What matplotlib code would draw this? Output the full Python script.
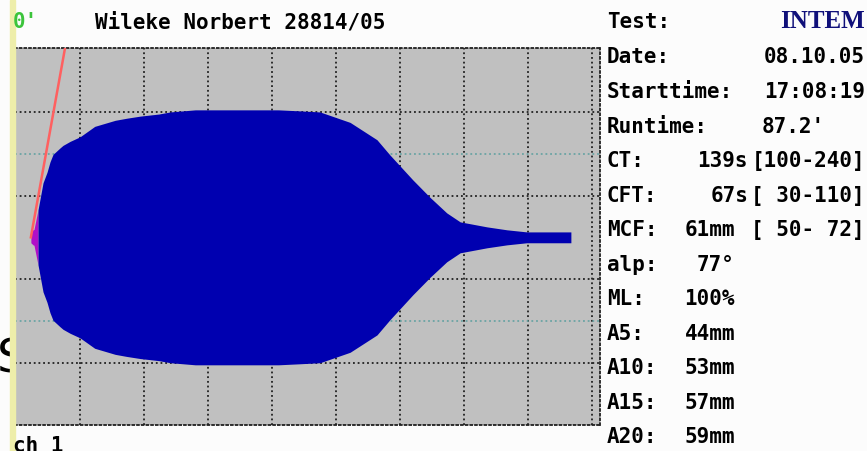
import numpy as np
import matplotlib.pyplot as plt

# =============================================================================
# data
# =============================================================================
patient = "Wileke Norbert 28814/05"
# trace: time in minutes, amplitude in mm
t_min = [0.0, 2.32, 2.66, 2.81, 3.13, 3.44, 4.22, 4.84, 5.31, 5.78, 6.88, 7.34, 8.44,
         10.0, 12.3, 15.5, 17.3, 19.4, 22.3, 24.1, 28.0, 35.0, 41.0, 44.4, 47.5,
         52.2, 56.4, 58.4, 62.0, 64.7, 67.3, 69.4, 73.6, 76.7, 79.8, 86.7]
amp_mm = [2.6, 2.6, 3.6, 3.8, 8.6, 13.2, 26.1, 31.1, 36.1, 39.7, 42.8, 44.0, 45.9,
          48.1, 53.1, 56.0, 57.0, 58.0, 59.0, 60.0, 61.0, 61.0, 61.0, 60.5, 60.0,
          55.0, 46.7, 39.5, 27.5, 19.1, 11.7, 7.4, 5.0, 3.6, 2.6, 2.6]
ct_s = 139
cft_s = 67
alpha_top = (7.66, 45.3)   # where the tangent leaves the top of the grid

labels = ["Test:", "Date:", "Starttime:", "Runtime:", "CT:", "CFT:", "MCF:",
          "alp:", "ML:", "A5:", "A10:", "A15:", "A20:"]
values = ["INTEM", "08.10.05", "17:08:19", "87.2'", "139s", "67s", "61mm",
          "77°", "100%", "44mm", "53mm", "57mm", "59mm"]
ranges = ["", "", "", "", "[100-240]", "[ 30-110]", "[ 50- 72]",
          "", "", "", "", "", ""]

# =============================================================================
# figure
# =============================================================================
W, H = 867, 451
fig = plt.figure(figsize=(W / 100, H / 100), dpi=100, facecolor='#fcfcfc')

def fx(px):
    return px / W

def fy(py):
    return 1 - py / H

ax = fig.add_axes([fx(15), fy(425), fx(600) - fx(15), fy(48) - fy(425)])
ax.set_facecolor('#c0c0c0')

t = np.array(t_min)
half = np.array(amp_mm) / 2
ct = ct_s / 60
cft_end = ct + cft_s / 60

# grid
for v in range(10, 91, 10):
    ax.axvline(v, color='#202020', ls=(0, (1, 1.6)), lw=1.3, zorder=1)
for h in [10, 30]:
    for s in [-1, 1]:
        ax.axhline(s * h, color='#202020', ls=(0, (1, 1.6)), lw=1.3, zorder=1)
for s in [-1, 1]:
    ax.axhline(s * 20, color='#6aa4a4', ls=(0, (1, 1.6)), lw=1.3, zorder=1)

# trace
ax.fill_between(t, -half, half, where=t <= ct + 1e-3, color='#0b4a14', lw=0, zorder=2)
ax.fill_between(t, -half, half, where=(t >= ct - 1e-3) & (t <= cft_end + 0.01),
                color='#b010c8', lw=0, zorder=2)
ax.fill_between(t, -half, half, where=t >= cft_end - 0.01, color='#0000b0', lw=0, zorder=2)

# alpha tangent
ax.plot([ct, alpha_top[0]], [0, alpha_top[1]], color='#ff6060', lw=1.8, zorder=3)

ax.set_xlim(-0.16, 91.25)
ax.set_ylim(-44.9, 45.3)
ax.set_xticks([])
ax.set_yticks([])
for sp in ax.spines.values():
    sp.set_linestyle((0, (1, 1.6)))
    sp.set_linewidth(1.3)
    sp.set_color('#202020')

# left margin bits
fig.patches.append(plt.Rectangle((fx(10), 0), fx(5), 1, transform=fig.transFigure,
                                 color='#eeeeaa', zorder=1))
fig.text(fx(-3), fy(360), "S", fontsize=34, color='black', va='center', zorder=-1)

mono = dict(family='DejaVu Sans Mono', weight='bold', fontsize=15, va='center')
fig.text(fx(13), fy(22), "0'", color='#3cc43c', **mono)
fig.text(fx(95), fy(22), patient, color='black', **mono)
fig.text(fx(13), fy(446), "ch 1", color='black', **mono)

# right panel
row_y = [22, 57, 92, 127, 161, 196, 230, 265, 299, 334, 368, 403, 437]
val_x = [865, 865, 865, 825, 748, 748, 735, 735, 735, 735, 735, 735, 735]
for i in range(len(labels)):
    fig.text(fx(607), fy(row_y[i]), labels[i], color='black', **mono)
    if i == 0:
        fig.text(fx(val_x[i]), fy(row_y[i]), values[i], color='#10107a',
                 family='Liberation Serif', weight='bold', fontsize=18,
                 ha='right', va='center')
    else:
        fig.text(fx(val_x[i]), fy(row_y[i]), values[i], color='black', ha='right', **mono)
    if ranges[i]:
        fig.text(fx(865), fy(row_y[i]), ranges[i], color='black', ha='right', **mono)

fig.savefig('out.png', dpi=100, facecolor=fig.get_facecolor())
